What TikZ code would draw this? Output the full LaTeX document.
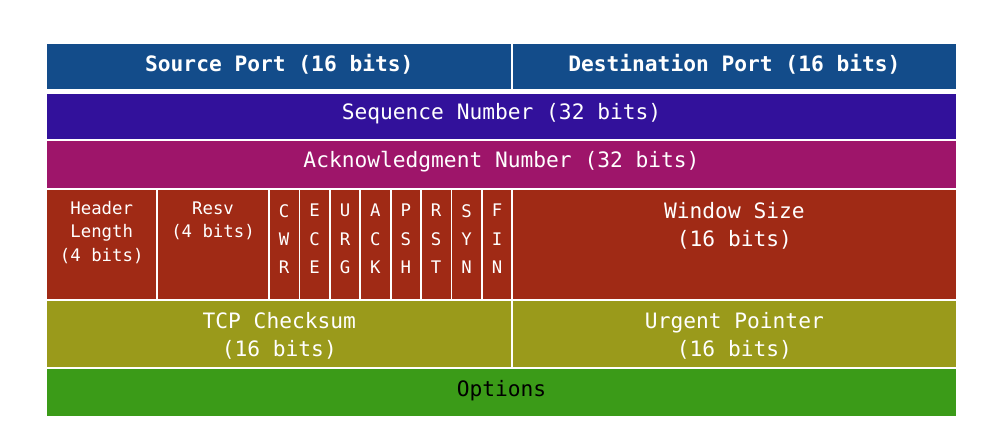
\documentclass[tikz,border=0pt]{standalone}
\usepackage{fontspec}
\newfontfamily\dvm{DejaVu Sans Mono}
\definecolor{cA}{RGB}{19,76,138}
\definecolor{cB}{RGB}{50,17,155}
\definecolor{cC}{RGB}{158,21,106}
\definecolor{cD}{RGB}{160,42,21}
\definecolor{cE}{RGB}{154,154,27}
\definecolor{cF}{RGB}{59,155,24}
\tikzset{
  cell/.style={draw=white, line width=1.8bp},
  big/.style={inner sep=0pt, text=white, align=center, font=\dvm\fontsize{21.3}{28}\selectfont},
  small/.style={inner sep=0pt, text=white, align=center, anchor=north, font=\dvm\fontsize{17.4}{23.5}\selectfont},
  flag/.style={inner sep=0pt, text=white, align=center, anchor=north, font=\dvm\fontsize{17.4}{28.5}\selectfont},
}
\begin{document}
\begin{tikzpicture}[x=1bp,y=-1bp]
\useasboundingbox (0,0) rectangle (995,435);
% row 1
\path[cell, fill=cA] (46.4,43.1) rectangle (512.2,90.2);
\path[cell, fill=cA] (512.2,43.1) rectangle (956.6,90.2);
% row 2
\path[cell, fill=cB] (46.4,93.1) rectangle (956.6,140.3);
% row 3
\path[cell, fill=cC] (46.4,140.3) rectangle (956.6,189);
% row 4
\path[cell, fill=cD] (46.4,189) rectangle (157,299.9);
\path[cell, fill=cD] (157,189) rectangle (269,299.9);
\foreach \a/\b in {269/299.4, 299.4/329.8, 329.8/360.2, 360.2/390.6, 390.6/421, 421/451.4, 451.4/481.8, 481.8/512.2}
  \path[cell, fill=cD] (\a,189) rectangle (\b,299.9);
\path[cell, fill=cD] (512.2,189) rectangle (956.6,299.9);
% row 5
\path[cell, fill=cE] (46.4,299.9) rectangle (512.2,368);
\path[cell, fill=cE] (512.2,299.9) rectangle (956.6,368);
% row 6
\path[cell, fill=cF] (46.4,368) rectangle (956.6,416.6);

% texts
\node[big, font=\dvm\bfseries\fontsize{21.3}{28}\selectfont] (src) at (279.3,64.3) {Source Port (16 bits)};
\node[big, font=\dvm\bfseries\fontsize{21.3}{28}\selectfont] (dst) at (734.4,64.3) {Destination Port (16 bits)};
\node[big] (seq) at (501.5,113.5) {Sequence Number (32 bits)};
\node[big] (ack) at (501.5,161.6) {Acknowledgment Number (32 bits)};
\node[small] (hlen) at (101.7,201.2) {Header\\Length\\(4 bits)};
\node[small] (resv) at (213,201.7) {Resv\\(4 bits)};
\node[flag] (cwr) at (284.2,204) {C\\W\\R};
\node[flag] (ece) at (314.6,204) {E\\C\\E};
\node[flag] (urg) at (345,204) {U\\R\\G};
\node[flag] (fack) at (375.4,204) {A\\C\\K};
\node[flag] (psh) at (405.8,204) {P\\S\\H};
\node[flag] (rst) at (436.2,204) {R\\S\\T};
\node[flag] (syn) at (466.6,204) {S\\Y\\N};
\node[flag] (fin) at (497,204) {F\\I\\N};
\node[big, anchor=north] (win) at (734.4,202.6) {Window Size\\(16 bits)};
\node[big] (chk) at (279.3,335.5) {TCP Checksum\\(16 bits)};
\node[big] (urp) at (734.4,335.5) {Urgent Pointer\\(16 bits)};
\node[big, text=black] (opt) at (501.5,391.1) {Options};
\end{tikzpicture}
\end{document}
